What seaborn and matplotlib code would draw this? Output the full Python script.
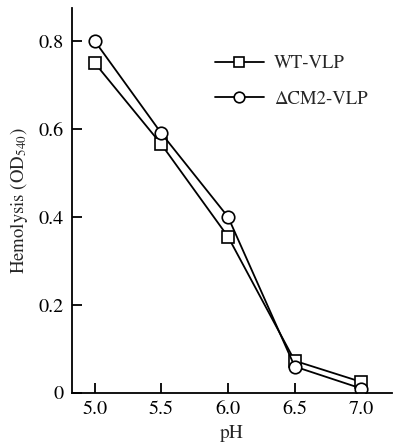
import matplotlib
matplotlib.use("Agg")
import matplotlib.pyplot as plt
import numpy as np
import pandas as pd
import seaborn as sns

# values
ph = [5.0, 5.5, 6.0, 6.5, 7.0]
wt_vlp = [0.75, 0.565, 0.355, 0.073, 0.025]
dcm2_vlp = [0.80, 0.59, 0.40, 0.060, 0.010]
series_names = ["WT-VLP", "\u0394CM2-VLP"]
y_ticks = [0, 0.2, 0.4, 0.6, 0.8]
y_ticklabels = ["0", "0.2", "0.4", "0.6", "0.8"]

df = pd.DataFrame({
    "pH": ph * 2,
    "OD": wt_vlp + dcm2_vlp,
    "strain": [series_names[0]] * len(ph) + [series_names[1]] * len(ph),
})

sns.set_style("ticks")
# Times-like look: STIX ships with matplotlib
plt.rcParams['font.family'] = ['STIXGeneral', 'Liberation Serif', 'DejaVu Serif']
plt.rcParams['mathtext.fontset'] = 'stix'

fig = plt.figure(figsize=(3.94, 4.46), dpi=100)
ax = fig.add_axes([0.183, 0.119, 0.812, 0.863])

sns.lineplot(data=df, x="pH", y="OD", hue="strain", style="strain",
             markers={series_names[0]: "s", series_names[1]: "o"},
             dashes=False, palette=["black", "black"], legend=False,
             ax=ax, lw=1.3, mfc="white", mec="black", mew=1.2, ms=8)

# circle marker a bit larger
ax.lines[1].set_markersize(9)

handles = ax.lines[:2]
ax.legend(handles, series_names, frameon=False, loc="center left",
          bbox_to_anchor=(0.447, 0.809), fontsize=13.5, handlelength=2.6,
          handletextpad=0.55, labelspacing=1.0, borderpad=0,
          borderaxespad=0, markerscale=0.85)

ax.set_xlim(4.83, 7.23)
ax.set_ylim(0, 0.875)
ax.set_xticks(ph)
ax.set_xticklabels([f"{v:.1f}" for v in ph])
ax.set_yticks(y_ticks)
ax.set_yticklabels(y_ticklabels)
ax.tick_params(direction="in", length=7, width=1.3, labelsize=14.5, colors="black", pad=6)
ax.set_xlabel("pH", fontsize=14, labelpad=5)
ax.set_ylabel("Hemolysis (OD$_{540}$)", fontsize=13.5, labelpad=6)
for s in ["top", "right"]:
    ax.spines[s].set_visible(False)
for s in ["left", "bottom"]:
    ax.spines[s].set_linewidth(1.3)
    ax.spines[s].set_color("black")

fig.savefig("out.png", dpi=100)
